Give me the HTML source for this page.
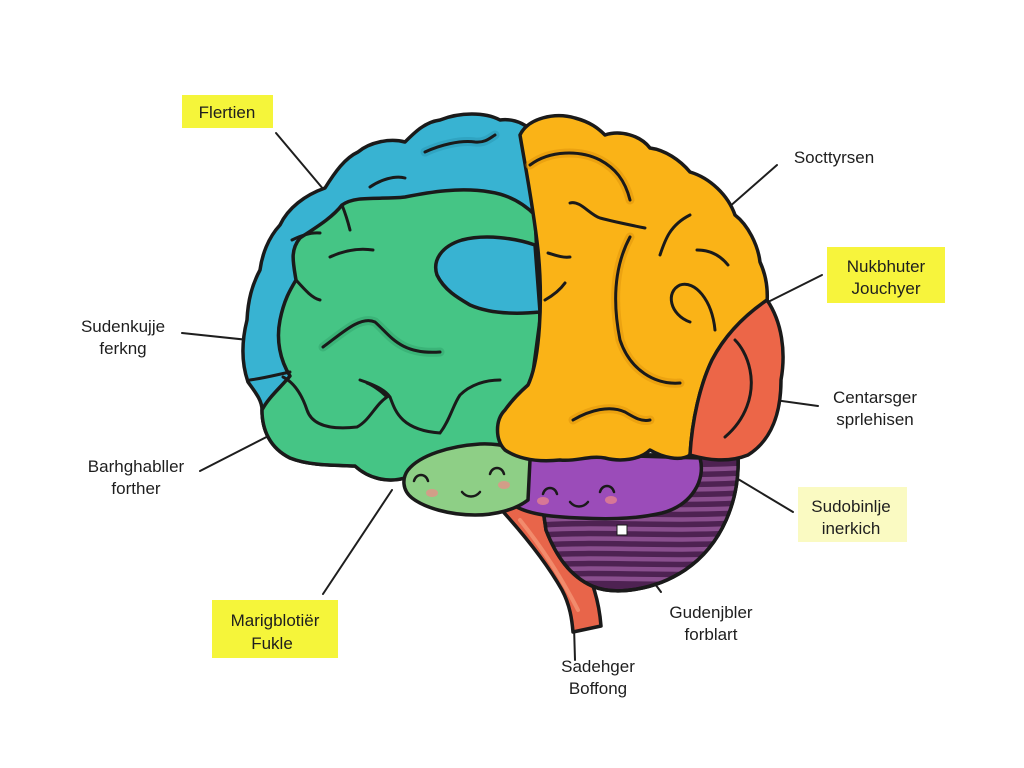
<!DOCTYPE html>
<html><head><meta charset="utf-8"><style>
html,body{margin:0;padding:0;background:#fff;}
svg{display:block;}
text{font-family:"Liberation Sans",sans-serif;fill:#1e1e1e;}
</style></head><body>
<svg width="1024" height="768" viewBox="0 0 1024 768" xmlns="http://www.w3.org/2000/svg">
<rect width="1024" height="768" fill="#fff"/>
<defs>
<clipPath id="cb"><path d="M535,455 L738,455 C740,500 722,545 685,570 C655,590 615,596 592,586 C570,576 556,556 546,530 Z"/></clipPath>
</defs>

<!-- label connector lines -->
<g stroke="#1e1e1e" stroke-width="2" fill="none" stroke-linecap="round">
<line x1="276" y1="133" x2="324" y2="190"/>
<line x1="182" y1="333" x2="258" y2="341"/>
<line x1="200" y1="471" x2="290" y2="425"/>
<line x1="323" y1="594" x2="392" y2="490"/>
<line x1="574" y1="626" x2="575" y2="660"/>
<line x1="618" y1="534" x2="661" y2="592"/>
<line x1="733" y1="476" x2="793" y2="512"/>
<line x1="760" y1="398" x2="818" y2="406"/>
<line x1="766" y1="303" x2="822" y2="275"/>
<line x1="712" y1="222" x2="777" y2="165"/>
</g>

<g stroke="#1a1a1a" stroke-width="3.5" stroke-linejoin="round" stroke-linecap="round">
<!-- brainstem -->
<path d="M497,505 C520,530 545,560 562,590 C570,605 572,620 573,632 L601,626 C599,600 592,580 582,560 C568,535 548,512 530,498 Z" fill="#e8654a"/>
<path d="M520,520 C540,545 560,575 578,610" stroke="#f28b6c" stroke-width="4" fill="none"/>
<!-- cerebellum -->
<path d="M535,455 L738,455 C740,500 722,545 685,570 C655,590 615,596 592,586 C570,576 556,556 546,530 Z" fill="#4e2252"/>
<g clip-path="url(#cb)" stroke="#8a4f8e" stroke-width="4.5" fill="none" stroke-linecap="round">
<path d="M540,470 C600,466 660,472 740,468"/>
<path d="M540,480 C600,476 660,482 740,478"/>
<path d="M540,490 C600,486 660,492 740,488"/>
<path d="M540,500 C600,496 660,502 740,498"/>
<path d="M540,510 C600,506 660,512 740,508"/>
<path d="M540,520 C600,516 660,522 740,518"/>
<path d="M540,530 C600,526 660,532 740,528"/>
<path d="M540,540 C600,536 660,542 740,538"/>
<path d="M540,550 C600,546 660,552 740,548"/>
<path d="M540,560 C600,556 660,562 740,558"/>
<path d="M540,570 C600,566 660,572 740,568"/>
<path d="M540,580 C600,576 660,582 740,578"/>
</g>
<path d="M535,455 L738,455 C740,500 722,545 685,570 C655,590 615,596 592,586 C570,576 556,556 546,530 Z" fill="none"/>

<!-- left hemisphere blue -->
<path d="M540,140 C530,125 515,118 500,120 C485,112 460,112 440,120 C425,122 415,132 405,142 C390,138 370,142 358,152 C345,158 335,172 325,188 C305,195 288,208 280,225 C268,238 262,255 260,270 C252,285 248,300 247,320 C242,340 241,362 248,382 C255,392 262,400 262,410 C262,430 270,448 290,458 C310,466 335,465 355,466 C368,478 388,484 408,477 L520,470 L545,300 Z" fill="#38b3d2"/>
<!-- green -->
<path d="M342,205 C356,195 380,200 405,197 C430,192 460,187 490,192 C510,195 525,205 535,215 L540,320 L520,470 L408,477 C388,484 368,478 355,466 C335,465 310,466 290,458 C270,448 262,430 262,410 C268,398 280,388 290,376 C280,360 276,340 280,320 C284,300 290,290 296,280 C293,262 290,250 300,238 C315,228 332,218 342,205 Z" fill="#45c585"/>
<!-- blue blob -->
<path d="M535,245 C515,238 485,234 462,240 C442,246 432,260 437,275 C444,290 458,298 470,305 C486,312 510,315 540,312 Z" fill="#38b3d2"/>
<!-- purple -->
<path d="M505,468 C520,456 560,452 600,455 L700,458 C706,480 692,505 662,513 C632,520 600,519 580,518 C555,517 530,515 515,506 C505,496 500,480 505,468 Z" fill="#9b4cb9"/>
<!-- face blob -->
<path d="M408,470 C420,455 450,446 480,444 C505,443 522,450 530,460 L528,500 C515,510 495,515 475,515 C450,515 425,508 412,498 C402,490 402,478 408,470 Z" fill="#8ecf86"/>
<!-- orange -->
<path d="M520,135 C528,118 555,112 575,118 C590,122 598,128 605,135 C620,130 640,135 650,148 C665,150 680,160 690,172 C710,178 728,195 735,215 C748,225 758,245 760,262 C766,275 768,290 767,303 C745,315 725,335 712,360 C700,385 692,420 690,455 C680,462 662,457 650,450 C640,460 620,462 605,458 C590,455 575,462 560,460 C540,462 520,460 505,450 C495,440 495,420 505,410 C512,400 520,392 528,385 C540,360 543,300 538,250 C533,205 525,165 520,135 Z" fill="#fab317"/>
<!-- red -->
<path d="M767,300 C782,322 786,352 781,380 C781,412 772,440 748,455 C728,463 708,460 690,455 C692,420 700,385 712,360 C725,335 745,315 767,300 Z" fill="#ec6648"/>
</g>

<!-- shading under sulci -->
<g fill="none" stroke-linecap="round" stroke-width="9" opacity="0.55">
<path d="M425,152 C440,145 460,140 475,142 C485,143 490,138 495,135" stroke="#2a97b5"/>
<path d="M323,347 C340,335 360,315 375,322 C390,335 400,355 440,352" stroke="#33a56e"/>
<path d="M530,165 C550,150 580,150 600,160 C615,168 625,180 630,200" stroke="#e0950c"/>
<path d="M630,237 C615,265 612,300 620,340 C630,370 655,385 680,383" stroke="#e0950c"/>
<path d="M573,420 C590,410 610,405 625,412 C635,418 642,422 650,420" stroke="#e0950c"/>
</g>

<!-- sulci -->
<g fill="none" stroke="#1a1a1a" stroke-width="3" stroke-linecap="round">
<!-- blue -->
<path d="M425,152 C440,145 460,140 475,142 C485,143 490,138 495,135"/>
<path d="M370,187 C380,180 395,175 405,178"/>
<path d="M250,380 C265,378 280,374 290,372"/>
<!-- green -->
<path d="M323,347 C340,335 360,315 375,322 C390,335 400,355 440,352"/>
<path d="M330,257 C345,250 360,248 373,250"/>
<path d="M296,280 C305,290 312,298 320,300"/>
<path d="M283,377 C295,383 302,395 307,410 C312,425 330,430 357,427 C370,420 375,405 387,397 C380,390 372,385 367,383"/>
<path d="M360,380 C375,385 385,390 390,397 C395,410 400,430 440,433 C450,420 453,405 460,395 C470,385 485,380 500,380"/>
<path d="M437,275 C445,290 458,298 470,305"/>
<path d="M342,205 C346,215 348,222 350,230"/>
<path d="M292,240 C300,236 310,232 320,233"/>
<!-- orange -->
<path d="M530,165 C550,150 580,150 600,160 C615,168 625,180 630,200"/>
<path d="M570,203 C580,200 590,215 600,218 C615,222 630,225 645,228"/>
<path d="M630,237 C615,265 612,300 620,340 C630,370 655,385 680,383"/>
<path d="M715,330 C712,300 695,280 680,285 C665,292 670,315 690,322"/>
<path d="M660,255 C665,240 670,225 690,215"/>
<path d="M697,250 C710,250 720,255 728,265"/>
<path d="M573,420 C590,410 610,405 625,412 C635,418 642,422 650,420"/>
<path d="M548,253 C555,255 562,258 570,257"/>
<path d="M545,300 C552,296 560,290 565,283"/>
<!-- red -->
<path d="M725,437 C745,420 755,395 750,370 C747,355 740,345 735,340"/>
</g>

<!-- faces -->
<g fill="none" stroke="#1a1a1a" stroke-width="2.5" stroke-linecap="round">
<path d="M414,481 C416,473 426,473 428,481"/>
<path d="M490,474 C492,466 502,466 504,474"/>
<path d="M462,492 C467,498 475,498 480,492"/>
<path d="M543,494 C545,486 555,486 557,494"/>
<path d="M600,492 C602,484 612,484 614,492"/>
<path d="M570,502 C575,508 583,508 588,502"/>
</g>
<g fill="#f08a8a" opacity="0.7">
<ellipse cx="432" cy="493" rx="6" ry="4"/>
<ellipse cx="504" cy="485" rx="6" ry="4"/>
<ellipse cx="543" cy="501" rx="6" ry="4"/>
<ellipse cx="611" cy="500" rx="6" ry="4"/>
</g>
<rect x="617" y="525" width="10" height="10" fill="#fff" stroke="#1a1a1a" stroke-width="1"/>

<!-- label boxes -->
<rect x="182" y="95" width="91" height="33" fill="#f5f53a"/>
<rect x="212" y="600" width="126" height="58" fill="#f5f53a"/>
<rect x="827" y="247" width="118" height="56" fill="#f7f43c"/>
<rect x="798" y="487" width="109" height="55" fill="#fafac2"/>

<!-- labels -->
<g font-size="17" text-anchor="middle">
<text x="227" y="118">Flertien</text>
<text x="123" y="332">Sudenkujje</text>
<text x="123" y="354">ferkng</text>
<text x="136" y="472">Barhghabller</text>
<text x="136" y="494">forther</text>
<text x="275" y="626">Marigblotiër</text>
<text x="272" y="649">Fukle</text>
<text x="598" y="672">Sadehger</text>
<text x="598" y="694">Boffong</text>
<text x="711" y="618">Gudenjbler</text>
<text x="711" y="640">forblart</text>
<text x="851" y="512">Sudobinlje</text>
<text x="851" y="534">inerkich</text>
<text x="875" y="403">Centarsger</text>
<text x="875" y="425">sprlehisen</text>
<text x="886" y="272">Nukbhuter</text>
<text x="886" y="294">Jouchyer</text>
<text x="834" y="163">Socttyrsen</text>
</g>
</svg>
</body></html>
